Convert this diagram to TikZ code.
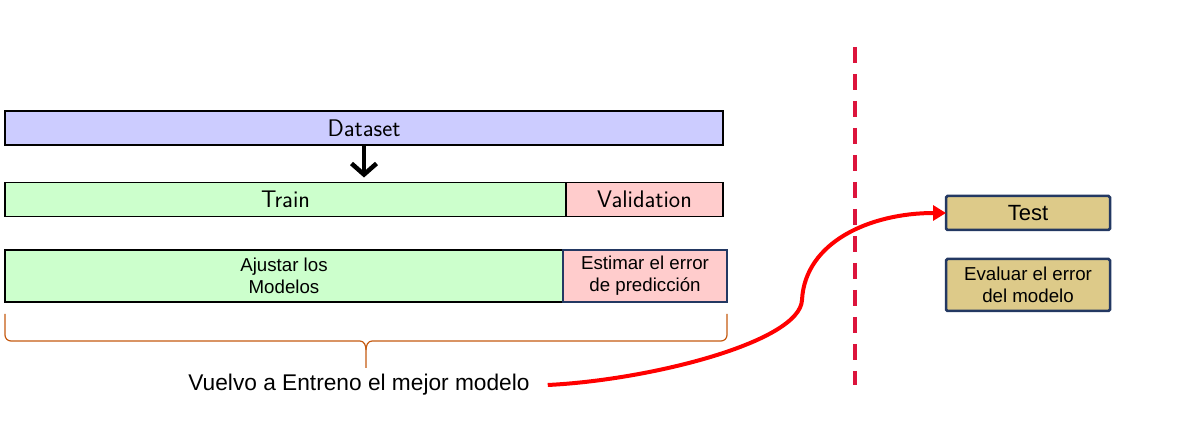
\documentclass[tikz,border=0pt]{standalone}
\usepackage{fontspec}
\newfontfamily\arialfont{Liberation Sans}
\usetikzlibrary{arrows.meta,positioning}

\definecolor{dataBlue}{RGB}{204,204,255}
\definecolor{trainGreen}{RGB}{204,255,204}
\definecolor{validPink}{RGB}{255,204,204}
\definecolor{testKhaki}{RGB}{221,202,137}
\definecolor{navyLine}{RGB}{35,56,98}
\definecolor{braceBrown}{RGB}{197,90,17}
\definecolor{splitRed}{RGB}{220,20,60}

\begin{document}
\begin{tikzpicture}
    [x = 1pt, y = 1pt,
     bar/.style = {draw, line width = 1.5pt, inner sep = 0pt, outer sep = 0pt,
                   minimum height = 34pt, font = \sffamily\fontsize{24}{28}\selectfont},
     dataBar/.style = {bar, fill = dataBlue, minimum width = 718pt},
     trainBar/.style = {bar, fill = trainGreen, minimum width = 561pt},
     validBar/.style = {bar, fill = validPink, minimum width = 157pt},
     taskBox/.style = {inner sep = 0pt, outer sep = 0pt, minimum height = 52pt,
                       align = center,
                       font = \arialfont\fontsize{18.7}{21.7}\selectfont},
     fitBox/.style = {taskBox, draw, line width = 2pt, fill = trainGreen,
                      minimum width = 558pt},
     estimBox/.style = {taskBox, draw = navyLine, line width = 1.5pt,
                        fill = validPink, minimum width = 164pt},
     testBox/.style = {draw = navyLine, line width = 2.5pt, rounded corners = 1.5pt,
                       fill = testKhaki, inner sep = 0pt, outer sep = 0pt,
                       minimum width = 164pt, align = center},
     noteText/.style = {inner xsep = 18pt, inner ysep = 0pt,
                        font = \arialfont\fontsize{22.7}{27}\selectfont},
     downArrow/.style = {line width = 4.5pt, -{Straight Barb[length = 11pt, width = 25pt]},
                         shorten > = 5pt},
     bestPath/.style = {red, line width = 4pt,
                        -{Triangle[length = 13pt, width = 15pt]}},
     splitLine/.style = {splitRed, line width = 4pt, dash pattern = on 16pt off 11pt},
     braceLine/.style = {braceBrown, line width = 1.2pt}]

    \useasboundingbox (0,0) rectangle (1187,442);

    % dataset and its split
    \node at (364,314) [dataBar] (dataset) {Dataset};
    \node at (285.5,242.5) [trainBar] (train) {Train};
    \node [validBar, right = 0pt of train] (valid) {Validation};

    \draw [downArrow] (dataset) -- (train.north -| dataset);

    % what each part is used for
    \node at (284,166) [fitBox] (fit) {Ajustar los\\Modelos};
    \node [estimBox, right = 0pt of fit] (estim) {Estimar el error\\de predicci\'on};

    % brace under both parts
    \draw [braceLine] (5,128) -- (5,107) to [out = -90, in = 180] (11,101)
      -- (360,101) to [out = 0, in = 90] (366,92) -- (366,74);
    \draw [braceLine] (366,92) to [out = 90, in = 180] (372,101)
      -- (721,101) to [out = 0, in = -90] (727,107) -- (727,128);

    \node at (359,57) [noteText] (retrain) {Vuelvo a Entreno el mejor modelo};

    % split between model selection and test
    \coordinate (splitTop) at (855,395);
    \coordinate (splitBottom) at (855,57);
    \draw [splitLine] (splitTop) -- (splitBottom);

    \node at (1028,229) [testBox, minimum height = 34pt,
                         font = \arialfont\fontsize{22}{26}\selectfont] (test) {Test};
    \node [testBox, below = 29pt of test, minimum height = 52pt,
           font = \arialfont\fontsize{18.7}{21.7}\selectfont] (evalErr)
          {Evaluar el error\\del modelo};

    \coordinate (bend) at (802,142);
    \draw [bestPath] (retrain.east) .. controls (650,62) and (800,100) .. (bend)
      .. controls (805,200) and (870,229) .. (test.west);
  \end{tikzpicture}
\end{document}
